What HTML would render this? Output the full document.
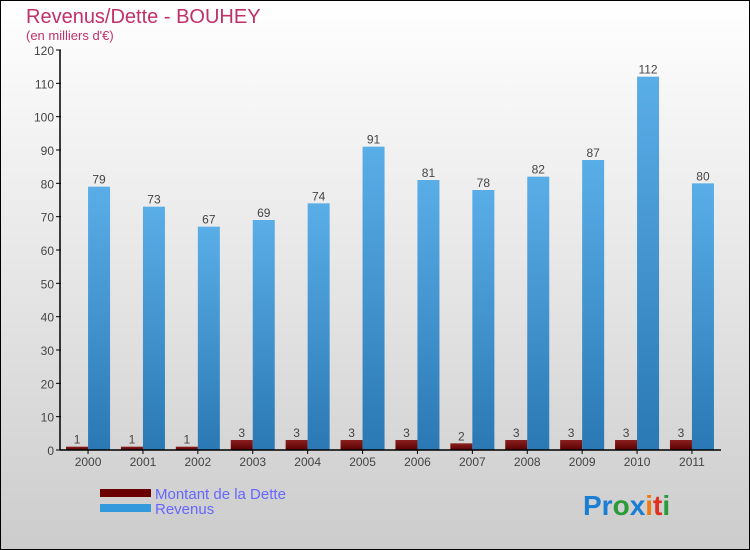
<!DOCTYPE html>
<html><head><meta charset="utf-8"><style>
body{margin:0}
#c{width:750px;height:550px;position:relative;box-sizing:border-box;border:1px solid #000;background:linear-gradient(#ffffff,#e6e6e6 50%,#cccccc);font-family:"Liberation Sans",sans-serif;overflow:hidden}
</style></head><body>
<div id="c">
<svg width="750" height="550" style="position:absolute;left:-1px;top:-1px" id="s">
<defs>
<linearGradient id="gb" x1="0" y1="0" x2="0" y2="1"><stop offset="0" stop-color="#5aaee8"/><stop offset="1" stop-color="#2a78b4"/></linearGradient>
<linearGradient id="gd" x1="0" y1="0" x2="0" y2="1"><stop offset="0" stop-color="#8a2020"/><stop offset="1" stop-color="#5a0000"/></linearGradient>
</defs>
<text x="26" y="23" font-size="20" fill="#c0306a">Revenus/Dette - BOUHEY</text>
<text x="26" y="40" font-size="13" fill="#c0306a">(en milliers d'€)</text>
<g id="g"></g>
<rect x="100" y="489" width="51" height="8" fill="#6a0000"/>
<rect x="100" y="504" width="51" height="8" fill="#3399dd"/>
<text x="155" y="499" font-size="15" fill="#6666ff">Montant de la Dette</text>
<text x="155" y="514" font-size="15" fill="#6666ff">Revenus</text>
<text x="583" y="515" font-size="28" font-weight="bold"><tspan fill="#1a7fd4">Pr</tspan><tspan fill="#2a9a3a">o</tspan><tspan fill="#1a7fd4">x</tspan><tspan fill="#f07a10">i</tspan><tspan fill="#e03020">t</tspan><tspan fill="#2a9a3a">i</tspan></text>
</svg>
</div>
<script>
const years=["2000","2001","2002","2003","2004","2005","2006","2007","2008","2009","2010","2011"];
const dette=[1,1,1,3,3,3,3,2,3,3,3,3];
const revenus=[79,73,67,69,74,91,81,78,82,87,112,80];
const yTicks=[0,10,20,30,40,50,60,70,80,90,100,110,120];
const NS="http://www.w3.org/2000/svg",g=document.getElementById('g');
const x0=60.6,bw=54.9,y=v=>450-v*400/120,cx=i=>x0+bw*(i+0.5);
function mk(t,a,txt){const e=document.createElementNS(NS,t);for(const k in a)e.setAttribute(k,a[k]);if(txt!=null)e.textContent=txt;g.appendChild(e);return e;}
yTicks.forEach(v=>{
const t=mk('text',{x:54,y:y(v)+5,'font-size':12,fill:'#444','text-anchor':'end'},v);


const l=mk('line',{x1:56,x2:61,y1:y(v),y2:y(v),stroke:'#000'});


});
years.forEach((yr,i)=>{
const c=cx(i);
const d=mk('rect',{x:c-22,y:y(dette[i]),width:22,height:450-y(dette[i]),fill:'url(#gd)'});


const r=mk('rect',{x:c,y:y(revenus[i]),width:22,height:450-y(revenus[i]),fill:'url(#gb)'});


const dl=mk('text',{x:c-11,y:y(dette[i])-3,'font-size':12,fill:'#444','text-anchor':'middle'},dette[i]);


const rl=mk('text',{x:c+11,y:y(revenus[i])-3,'font-size':12,fill:'#444','text-anchor':'middle'},revenus[i]);


const xl=mk('text',{x:c,y:466,'font-size':12,fill:'#444','text-anchor':'middle'},yr);


const xt=mk('line',{x1:c,x2:c,y1:450,y2:454,stroke:'#000'});


});
const ya=mk('line',{x1:60,x2:60,y1:y(120),y2:450,stroke:'#000','stroke-width':1.5});


const xa=mk('line',{x1:60,x2:721,y1:450,y2:450,stroke:'#000','stroke-width':1.5});


</script>
</body></html>
